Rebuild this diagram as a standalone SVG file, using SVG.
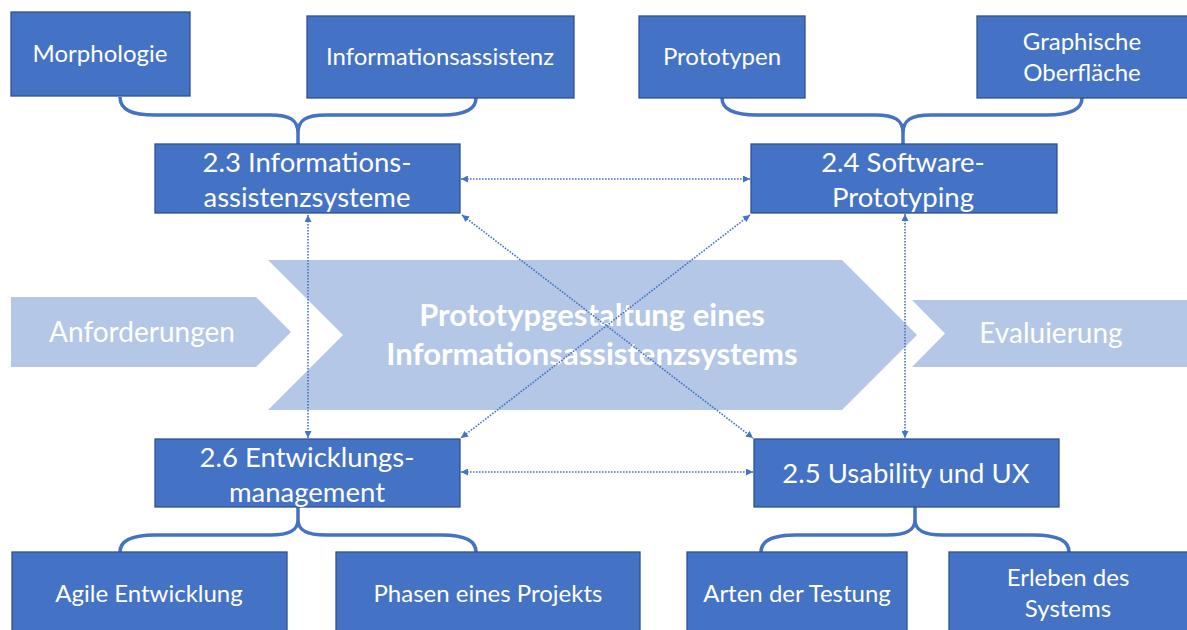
<svg xmlns="http://www.w3.org/2000/svg" width="1187" height="630" viewBox="0 0 1187 630">
<style>
.box{fill:#4472C4;stroke:#2F528F;stroke-width:1.3}
.chev{fill:#B4C7E7}
.t{font-family:Lato,"Open Sans","Liberation Sans",sans-serif;fill:#fff;text-anchor:middle}
.s{font-size:24px}
.m{font-size:27.5px}
.c{font-size:28px}
.b{font-size:31px;font-weight:bold}
.brace{fill:none;stroke:#4472C4;stroke-width:3.5}
.dot{fill:none;stroke:#4472C4;stroke-width:1.6;stroke-dasharray:1.6 1.4;marker-start:url(#ah);marker-end:url(#ah)}
</style>
<defs>
<marker id="ah" viewBox="0 0 10 10" refX="10" refY="5" markerWidth="7" markerHeight="7" orient="auto-start-reverse" markerUnits="userSpaceOnUse">
<path d="M0,0 L10,5 L0,10 z" fill="#4472C4"/>
</marker>
</defs>
<rect width="1187" height="630" fill="#fff"/>
<g id="process">
<polygon class="chev" points="11,297 256,297 291,332 256,367 11,367"/>
<text class="t c" x="142" y="342">Anforderungen</text>
<polygon class="chev" points="268,260 842,260 917,335 842,410 268,410 343,335"/>
<text class="t b" x="592" y="326">Prototypgestaltung eines</text>
<text class="t b" x="592" y="365">Informationsassistenzsystems</text>
<polygon class="chev" points="912,300 1187,300 1187,367 912,367 945,333.5"/>
<text class="t c" x="1051" y="343">Evaluierung</text>
</g>
<g id="connectors">
<path class="brace" d="M120,97 C120,110 132,115 155,115 L270,115 C290,115 298,120 298,133 C298,120 306,115 326,115 L442,115 C464,115 476,110 476,98 M298,133 L298,144"/>
<path class="brace" d="M722,98 C722,110 734,115 757,115 L875,115 C895,115 903,120 903,133 C903,120 911,115 931,115 L1047,115 C1070,115 1082,110 1082,98 M903,133 L903,144"/>
<path class="brace" d="M298,507 L298,520 C298,530 290,535 270,535 L155,535 C132,535 120,540 120,552 M298,520 C298,530 306,535 326,535 L442,535 C464,535 476,540 476,552"/>
<path class="brace" d="M915,507 L915,520 C915,530 907,535 887,535 L796,535 C773,535 761,540 761,552 M915,520 C915,530 923,535 943,535 L1034,535 C1057,535 1069,540 1069,552"/>
<line class="dot" x1="461" y1="179" x2="750" y2="179"/>
<line class="dot" x1="461" y1="472" x2="753" y2="472"/>
<line class="dot" x1="308" y1="215" x2="308" y2="438"/>
<line class="dot" x1="905" y1="214" x2="905" y2="438"/>
<line class="dot" x1="462" y1="215" x2="753" y2="438"/>
<line class="dot" x1="750" y1="215" x2="461" y2="438"/>
</g>
<g id="morphologie"><rect class="box" x="11" y="12" width="179" height="84"/><text class="t s" x="100" y="62">Morphologie</text></g>
<g id="informationsassistenz"><rect class="box" x="307" y="16" width="267" height="82"/><text class="t s" x="440" y="65">Informationsassistenz</text></g>
<g id="prototypen"><rect class="box" x="639" y="16" width="166" height="82"/><text class="t s" x="722" y="65">Prototypen</text></g>
<g id="graphische"><rect class="box" x="977" y="16" width="212" height="82"/><text class="t s" x="1082" y="50">Graphische</text><text class="t s" x="1082" y="81">Oberfläche</text></g>
<g id="n23"><rect class="box" x="155" y="144" width="305" height="69"/><text class="t m" x="307" y="172">2.3 Informations-</text><text class="t m" x="307" y="207">assistenzsysteme</text></g>
<g id="n24"><rect class="box" x="751" y="144" width="306" height="69"/><text class="t m" x="903" y="172">2.4 Software-</text><text class="t m" x="903" y="207">Prototyping</text></g>
<g id="n26"><rect class="box" x="155" y="439" width="305" height="68"/><text class="t m" x="307" y="467">2.6 Entwicklungs-</text><text class="t m" x="307" y="502">management</text></g>
<g id="n25"><rect class="box" x="754" y="439" width="305" height="68"/><text class="t m" x="906" y="483">2.5 Usability und UX</text></g>
<g id="agile"><rect class="box" x="12" y="552" width="275" height="80"/><text class="t s" x="149" y="602">Agile Entwicklung</text></g>
<g id="phasen"><rect class="box" x="336" y="552" width="304" height="80"/><text class="t s" x="488" y="602">Phasen eines Projekts</text></g>
<g id="arten"><rect class="box" x="687" y="552" width="220" height="80"/><text class="t s" x="797" y="602">Arten der Testung</text></g>
<g id="erleben"><rect class="box" x="949" y="552" width="240" height="80"/><text class="t s" x="1068" y="586">Erleben des</text><text class="t s" x="1068" y="617">Systems</text></g>
</svg>
